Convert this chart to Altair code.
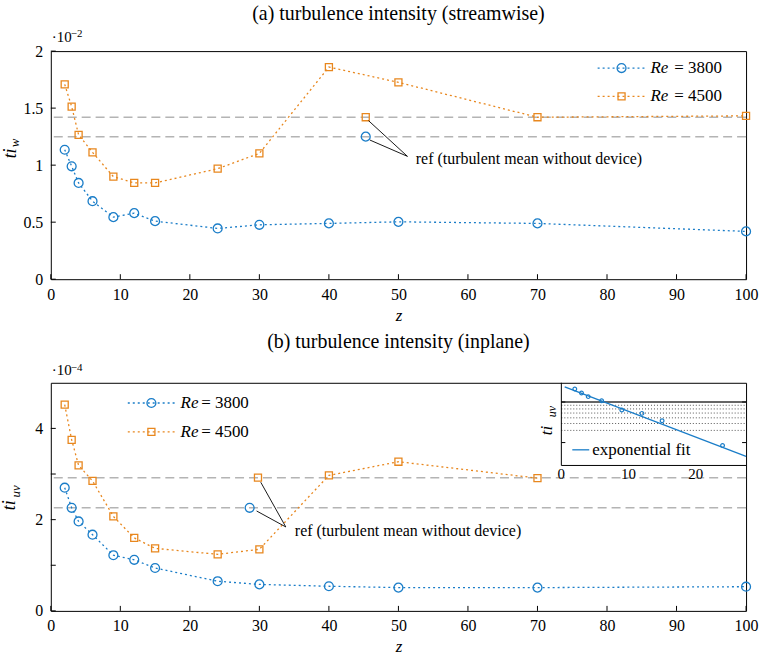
import altair as alt
import pandas as pd

FONT = "Liberation Serif, Times New Roman, Times, DejaVu Serif, serif"
BLUE = "#1a7dc8"
ORANGE = "#e8871e"
GRAY = "#b4b4b4"
W, H = 698, 229

# ---------------- data ----------------
series_names = ["3800", "4500"]

# (a) streamwise turbulence intensity, x 1e-2
z_a = [2, 3, 4, 6, 9, 12, 15, 24, 30, 40, 50, 70, 100]
tiw_3800 = [1.135, 0.99, 0.844, 0.684, 0.544, 0.579, 0.509, 0.445, 0.477, 0.489, 0.503, 0.489, 0.419]
tiw_4500 = [1.708, 1.513, 1.266, 1.112, 0.899, 0.844, 0.844, 0.969, 1.103, 1.860, 1.726, 1.420, 1.432]
ref_w = [1.25, 1.42]
ref_w_z = [45.3, 45.3]

# (b) inplane turbulence intensity, x 1e-4
z_b_3800 = [2, 3, 4, 6, 9, 12, 15, 24, 30, 40, 50, 70, 100]
tiuv_3800 = [2.70, 2.26, 1.96, 1.67, 1.22, 1.12, 0.94, 0.65, 0.58, 0.54, 0.51, 0.51, 0.53]
z_b_4500 = [2, 3, 4, 6, 9, 12, 15, 24, 30, 40, 50, 70]
tiuv_4500 = [4.52, 3.75, 3.19, 2.85, 2.07, 1.60, 1.37, 1.24, 1.35, 2.97, 3.27, 2.91]
ref_uv = [2.26, 2.92]
ref_uv_z = [28.6, 29.8]

# inset (log scale, Re = 3800)
inset_z = [2, 3, 4, 6, 9, 12, 15, 24]
inset_v = [1.52, 1.34, 1.19, 1.04, 0.773, 0.693, 0.548, 0.246]
fit_z = [0.5, 27.5]
fit_v = [1.63, 0.173]
inset_z_dom = [0, 27.5]
inset_v_dom = [0.129, 1.86]
inset_major = [1.0]
inset_minor = [0.9, 0.8, 0.7, 0.6, 0.5, 0.4]
inset_yticks = [1.0, 0.27]
inset_xticks = [0, 10, 20]

x_ticks = list(range(0, 101, 10))
ya_ticks = [0, 0.5, 1, 1.5, 2]
yb_ticks = [0, 1, 2, 3, 4]

ann_text = "ref (turbulent mean without device)"
ann_a = dict(z=[45.7, 45.9], v=[1.39, 1.22], z2=[51.3, 51.3], v2=[1.077, 1.077])
ann_a_text = dict(z=[52.5], v=[1.05])
ann_b = dict(z=[30.2, 29.6], v=[2.82, 2.19], z2=[33.8, 33.8], v2=[1.84, 1.84])
ann_b_text = dict(z=[35.1], v=[1.74])

# ---------------- helpers ----------------
one = pd.DataFrame({"k": [0]})
INX = 513.3 * W / 699


def X():
    return alt.X("z:Q", scale=alt.Scale(domain=[0, 100], nice=False, zero=False),
                 axis=alt.Axis(values=x_ticks, ticks=False, domain=False, grid=False,
                               labelPadding=7, labelFlush=False, title="z",
                               titleFontStyle="italic", titlePadding=5))


def Y(dom, ticks, expr):
    return alt.Y("v:Q", scale=alt.Scale(domain=dom, nice=False, zero=False),
                 axis=alt.Axis(values=ticks, ticks=False, domain=False, grid=False,
                               labelPadding=8, labelFlush=False, labelExpr=expr, title=None))


C = alt.Color("series:N", scale=alt.Scale(domain=series_names, range=[BLUE, ORANGE]), legend=None)
S = alt.Shape("series:N", scale=alt.Scale(domain=series_names, range=["circle", "square"]), legend=None)
SZ = alt.Size("series:N", scale=alt.Scale(domain=series_names, range=[80, 50]), legend=None)


def long_df(z1, v1, z2, v2):
    return pd.DataFrame({"z": z1 + z2, "v": v1 + v2,
                         "series": [series_names[0]] * len(z1) + [series_names[1]] * len(z2)})


def text_at(txt, x, y, size=16, style="normal", angle=0, align="left", color="black"):
    return alt.Chart(one).mark_text(text=txt, font=FONT, fontSize=size, fontStyle=style,
                                    angle=angle, align=align, baseline="middle", color=color).encode(
        x=alt.value(x), y=alt.value(y))


def legend_rows(xl0, xl1, xm, xt, xeq, ys):
    layers = []
    for name, col, shp, sz, y in zip(series_names, [BLUE, ORANGE], ["circle", "square"], [80, 50], ys):
        layers.append(alt.Chart(one).mark_rule(color=col, strokeDash=[2, 3], strokeWidth=1.3).encode(
            x=alt.value(xl0), x2=alt.value(xl1), y=alt.value(y)))
        layers.append(alt.Chart(one).mark_point(shape=shp, size=sz, filled=False, color=col,
                                                strokeWidth=1.3, opacity=1).encode(
            x=alt.value(xm), y=alt.value(y)))
        layers.append(text_at("Re", xt, y, size=17, style="italic"))
        layers.append(text_at("= " + name, xeq, y, size=17))
    return layers


def panel(df, refs, ref_z, ann, ann_t, ydom, yticks, yexpr, legend_pos, exp_txt, ytitle):
    Yv = Y(ydom, yticks, yexpr)
    layers = []
    layers.append(alt.Chart(pd.DataFrame({"v": refs})).mark_rule(
        color=GRAY, strokeDash=[9, 5], strokeWidth=1.5).encode(y=Yv))
    layers.append(alt.Chart(df).mark_line(strokeDash=[2, 3], strokeWidth=1.3).encode(
        x=X(), y=Yv, color=C, order="z:Q"))
    layers.append(alt.Chart(df).mark_point(filled=False, strokeWidth=1.3, opacity=1).encode(
        x=X(), y=Yv, color=C, shape=S, size=SZ))
    refdf = pd.DataFrame({"z": ref_z, "v": refs, "series": series_names})
    layers.append(alt.Chart(refdf).mark_point(filled=False, strokeWidth=1.3, opacity=1).encode(
        x=X(), y=Yv, color=C, shape=S, size=SZ))
    layers.append(alt.Chart(pd.DataFrame(ann)).mark_rule(color="black", strokeWidth=0.9).encode(
        x=X(), y=Yv, x2="z2:Q", y2="v2:Q"))
    tdf = pd.DataFrame(ann_t)
    tdf["label"] = ann_text
    layers.append(alt.Chart(tdf).mark_text(font=FONT, fontSize=16, align="left", baseline="middle").encode(
        x=X(), y=Yv, text="label:N"))
    layers.append(alt.Chart(pd.DataFrame({"z": x_ticks})).mark_rule(color="black", strokeWidth=1).encode(
        x=X(), y=alt.value(H), y2=alt.value(H - 5)))
    layers.append(alt.Chart(pd.DataFrame({"v": yticks})).mark_rule(color="black", strokeWidth=1).encode(
        y=Yv, x=alt.value(0), x2=alt.value(5)))
    layers += legend_rows(*legend_pos)
    layers.append(text_at("\u00b710", 1, exp_txt[0], size=15))
    layers.append(text_at(exp_txt[2], 20, exp_txt[1], size=11))
    layers.append(text_at("ti", ytitle[0], ytitle[1], size=18, style="italic", angle=270, align="center"))
    layers.append(text_at(ytitle[4], ytitle[2], ytitle[3], size=13, style="italic", angle=270, align="center"))
    return alt.layer(*layers)


# ---------------- (a) ----------------
df_a = long_df(z_a, tiw_3800, z_a, tiw_4500)
top = panel(df_a, ref_w, ref_w_z, ann_a, ann_a_text, [0, 2], ya_ticks, "'' + datum.value",
            (549, 596, 573, 602, 626, [17, 45.4]), (-14.3, -16.8, "\u22122"),
            (-39.7, 102.7, -35.5, 92.2, "w")
            ).properties(width=W, height=H, title=alt.TitleParams(
    "(a)  turbulence intensity (streamwise)", font=FONT, fontSize=20, fontWeight="normal",
    anchor="middle", frame="group", offset=4))

# ---------------- (b) ----------------
df_b = long_df(z_b_3800, tiuv_3800, z_b_4500, tiuv_4500)
main_b = panel(df_b, ref_uv, ref_uv_z, ann_b, ann_b_text, [0, 5], yb_ticks,
               "datum.value % 2 == 0 ? '' + datum.value : ''",
               (77.3, 124.3, 101, 130.3, 151, [20.3, 49.3]), (-13, -15, "\u22124"),
               (-40.5, 123, -35.2, 109, "uv"))

IX = alt.X("iz:Q", scale=alt.Scale(domain=inset_z_dom, range=[INX, W], nice=False, zero=False), axis=None)
IY = alt.Y("iv:Q", scale=alt.Scale(type="log", domain=inset_v_dom, range=[83, 0], nice=False), axis=None)

inset_layers = []
inset_layers.append(alt.Chart(pd.DataFrame({"iv": inset_minor, "iz": [inset_z_dom[0]] * len(inset_minor),
                                            "iz2": [inset_z_dom[1]] * len(inset_minor)})).mark_rule(
    color="#555555", strokeDash=[1, 2], strokeWidth=1).encode(x=IX, x2="iz2:Q", y=IY))
inset_layers.append(alt.Chart(pd.DataFrame({"iv": inset_major, "iz": [inset_z_dom[0]],
                                            "iz2": [inset_z_dom[1]]})).mark_rule(
    color="#333333", strokeWidth=1.3).encode(x=IX, x2="iz2:Q", y=IY))
inset_layers.append(alt.Chart(pd.DataFrame({"iz": [inset_z_dom[0]], "iv": [inset_v_dom[0]],
                                            "iv2": [inset_v_dom[1]]})).mark_rule(
    color="black", strokeWidth=1).encode(x=IX, y=IY, y2="iv2:Q"))
inset_layers.append(alt.Chart(pd.DataFrame({"iz": [inset_z_dom[0]], "iz2": [inset_z_dom[1]],
                                            "iv": [inset_v_dom[0]]})).mark_rule(
    color="black", strokeWidth=1).encode(x=IX, x2="iz2:Q", y=IY))
inset_layers.append(alt.Chart(pd.DataFrame({"iv": inset_yticks})).mark_rule(color="black").encode(
    y=IY, x=alt.value(INX), x2=alt.value(INX + 4)))
inset_layers.append(alt.Chart(pd.DataFrame({"iv": inset_yticks})).mark_rule(color="black").encode(
    y=IY, x=alt.value(W - 4), x2=alt.value(W)))
inset_layers.append(alt.Chart(pd.DataFrame({"iz": fit_z, "iv": fit_v})).mark_line(
    color=BLUE, strokeWidth=1.3).encode(x=IX, y=IY))
inset_layers.append(alt.Chart(pd.DataFrame({"iz": inset_z, "iv": inset_v})).mark_point(
    shape="circle", size=14, filled=False, color=BLUE, strokeWidth=1.2, opacity=1).encode(x=IX, y=IY))
inset_layers.append(alt.Chart(pd.DataFrame({"iz": inset_xticks})).mark_text(
    font=FONT, fontSize=15, baseline="middle", align="center").encode(x=IX, y=alt.value(92), text="iz:Q"))
inset_layers.append(alt.Chart(one).mark_rule(color=BLUE, strokeWidth=1.3).encode(
    x=alt.value(INX + 11), x2=alt.value(INX + 28), y=alt.value(67.3)))
inset_layers.append(text_at("exponential fit", INX + 31, 67.3, size=17))
inset_layers.append(text_at("ti", INX - 14, 48, size=17, style="italic", angle=270, align="center"))
inset_layers.append(text_at("uv", INX - 9, 29, size=12, style="italic", angle=270, align="center"))
inset = alt.layer(*inset_layers)

bottom = alt.layer(main_b, inset).resolve_scale(x="independent", y="independent").properties(
    width=W, height=H, title=alt.TitleParams(
        "(b)  turbulence intensity (inplane)", font=FONT, fontSize=20, fontWeight="normal",
        anchor="middle", frame="group", offset=10))

chart = alt.vconcat(top, bottom, spacing=7).properties(
    padding={"left": 1, "right": 0, "top": 2, "bottom": 0}
).configure(background="white").configure_view(
    stroke="black", strokeWidth=1).configure_axis(
    labelFont=FONT, labelFontSize=16, titleFont=FONT, titleFontSize=17, labelColor="black",
    titleColor="black", titleFontWeight="normal")

chart.save("out.html", embed_options={"renderer": "svg", "actions": False})
